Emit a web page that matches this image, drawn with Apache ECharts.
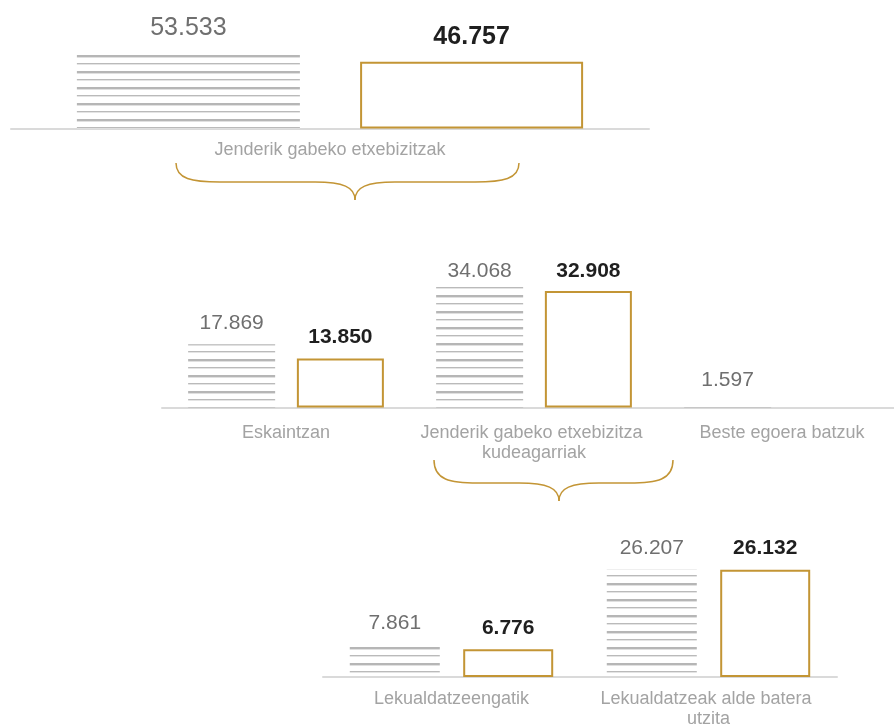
<!DOCTYPE html>
<html>
<head>
<meta charset="utf-8">
<script src="https://cdn.jsdelivr.net/npm/echarts@6/dist/echarts.min.js"></script>
<style>
  html, body { margin: 0; padding: 0; background: #fff; }
  #chart { width: 894px; height: 728px; }
</style>
</head>
<body>
<div id="chart"></div>
<script>
  // goiko taula: etxebizitza hutsak guztira
  const cat1 = ['Jenderik gabeko etxebizitzak'];
  const prev1 = [53533];
  const curr1 = [46757];

  // erdikoa: banaketa
  const cat2 = ['Eskaintzan', 'Jenderik gabeko etxebizitza kudeagarriak', 'Beste egoera batzuk'];
  const prev2 = [17869, 34068, 1597];
  const curr2 = [13850, 32908, null];

  // behekoa: kudeagarrien banaketa
  const cat3 = ['Lekualdatzeengatik', 'Lekualdatzeak alde batera utzita'];
  const prev3 = [7861, 26207];
  const curr3 = [6776, 26132];

  const gold = '#c39535';
  const greyTxt = '#6f6f6f';
  const catTxt = '#a3a3a3';
  const font = '"Liberation Sans", Arial, sans-serif';

  // marra horizontalen eredua (aurreko urtea)
  function stripes() {
    const c = document.createElement('canvas');
    c.width = 8; c.height = 16;
    const g = c.getContext('2d');
    g.fillStyle = '#b6b6b6'; g.fillRect(0, 7, 8, 2);
    g.fillStyle = '#e0e0e0'; g.fillRect(0, 9, 8, 1);
    g.fillStyle = '#bababa'; g.fillRect(0, 15, 8, 1);
    g.fillStyle = '#e4e4e4'; g.fillRect(0, 0, 8, 1);
    return c;
  }
  const pattern = { image: stripes(), repeat: 'repeat' };

  function fmt(p) {
    if (p.value == null) return '';
    return String(p.value).replace(/\B(?=(\d{3})+(?!\d))/g, '.');
  }

  // etiketak ez dira goiko muga hori baino gorago joaten
  function clampTop(minTop) {
    return function (p) {
      const d = minTop - p.labelRect.y;
      return d > 0 ? { dy: d } : {};
    };
  }

  function xAx(idx, data, margin, width) {
    return {
      type: 'category', gridIndex: idx, data: data,
      axisLine: { lineStyle: { color: '#dadada', width: 2 } },
      axisTick: { show: false },
      axisLabel: {
        color: catTxt, fontSize: 18, fontFamily: font, margin: margin,
        lineHeight: 20, width: width, overflow: 'break', interval: 0
      }
    };
  }
  function yAx(idx, max) {
    return { type: 'value', gridIndex: idx, min: 0, max: max, show: false, splitLine: { show: false } };
  }
  function pair(idx, prev, curr, bw, gap, fs, dist, minTop) {
    return [
      {
        type: 'bar', xAxisIndex: idx, yAxisIndex: idx, data: prev,
        barWidth: bw, barGap: gap,
        itemStyle: { color: pattern },
        label: { show: true, position: 'top', distance: dist, fontSize: fs, fontFamily: font, color: greyTxt, formatter: fmt },
        labelLayout: clampTop(minTop)
      },
      {
        type: 'bar', xAxisIndex: idx, yAxisIndex: idx, data: curr,
        barWidth: bw, barGap: gap,
        itemStyle: { color: '#fff', borderColor: gold, borderWidth: 2 },
        label: { show: true, position: 'top', distance: dist, fontSize: fs, fontWeight: 'bold', fontFamily: font, color: '#1f1f1f', formatter: fmt },
        labelLayout: clampTop(minTop)
      }
    ];
  }

  // giltza (brace)
  function brace(xl, xr, xc, yEnd, yMid, yTip) {
    const s = { stroke: gold, lineWidth: 1.5, fill: null };
    const r = 44, t = 40;
    return [
      { type: 'bezierCurve', shape: { x1: xl, y1: yEnd, cpx1: xl, cpy1: yMid - 3, cpx2: xl + 16, cpy2: yMid, x2: xl + r, y2: yMid }, style: s },
      { type: 'line', shape: { x1: xl + r, y1: yMid, x2: xc - t, y2: yMid }, style: s },
      { type: 'bezierCurve', shape: { x1: xc - t, y1: yMid, cpx1: xc - 12, cpy1: yMid, cpx2: xc, cpy2: yMid + 5, x2: xc, y2: yTip }, style: s },
      { type: 'bezierCurve', shape: { x1: xc, y1: yTip, cpx1: xc, cpy1: yMid + 5, cpx2: xc + 12, cpy2: yMid, x2: xc + t, y2: yMid }, style: s },
      { type: 'line', shape: { x1: xc + t, y1: yMid, x2: xr - r, y2: yMid }, style: s },
      { type: 'bezierCurve', shape: { x1: xr - r, y1: yMid, cpx1: xr - 16, cpy1: yMid, cpx2: xr, cpy2: yMid - 3, x2: xr, y2: yEnd }, style: s }
    ];
  }

  const chart = echarts.init(document.getElementById('chart'), null, { renderer: 'canvas' });
  chart.setOption({
    animation: false,
    backgroundColor: '#fff',
    grid: [
      { left: 11, top: 43, width: 638, height: 85.5, outerBoundsMode: 'none' },
      { left: 162, top: 266, width: 744, height: 141.5, outerBoundsMode: 'none' },
      { left: 323, top: 554, width: 514, height: 123, outerBoundsMode: 'none' }
    ],
    xAxis: [xAx(0, cat1, 12, 400), xAx(1, cat2, 16, 240), xAx(2, cat3, 12, 228)],
    yAxis: [yAx(0, 60000), yAx(1, 40000), yAx(2, 30000)],
    series: [].concat(
      pair(0, prev1, curr1, 223, '27%', 25, 12, 0),
      pair(1, prev2, curr2, 87, '25%', 21, 11, 261),
      pair(2, prev3, curr3, 90, '26%', 21, 11, 537)
    ),
    graphic: [].concat(
      brace(176, 519, 355, 163, 182, 200),
      brace(434, 673, 559, 460, 483, 501)
    )
  });
</script>
</body>
</html>
